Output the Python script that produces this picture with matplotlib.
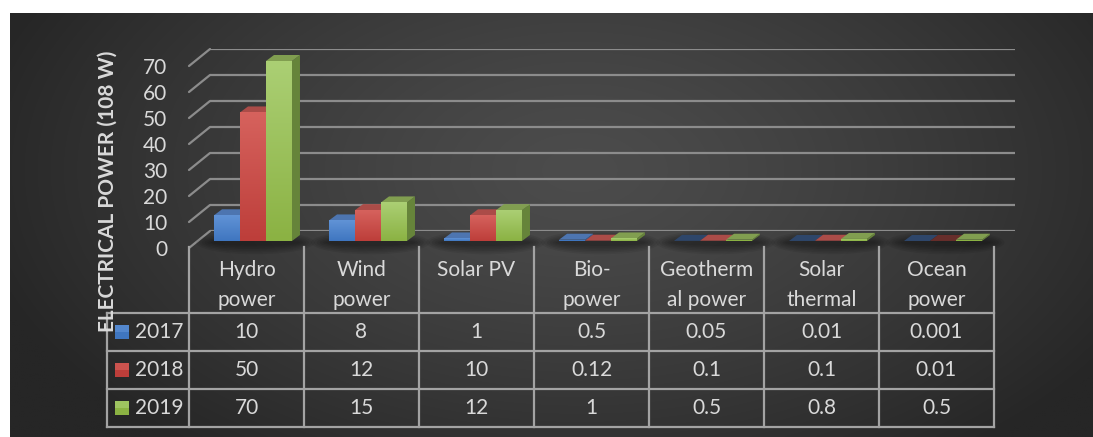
import numpy as np
import matplotlib
matplotlib.use("Agg")
import matplotlib.pyplot as plt
from matplotlib.patches import Polygon, Rectangle, Ellipse, ConnectionPatch
from matplotlib.colors import to_rgb

# ---- data -------------------------------------------------------------
categories = ["Hydro\npower", "Wind\npower", "Solar PV", "Bio-\npower",
              "Geotherm\nal power", "Solar\nthermal", "Ocean\npower"]
years = ["2017", "2018", "2019"]
values_2017 = [10, 8, 1, 0.5, 0.05, 0.01, 0.001]
values_2018 = [50, 12, 10, 0.12, 0.1, 0.1, 0.01]
values_2019 = [70, 15, 12, 1, 0.5, 0.8, 0.5]
y_ticks = [0, 10, 20, 30, 40, 50, 60, 70]
y_title = "ELECTRICAL POWER (108 W)"

series = [values_2017, values_2018, values_2019]

# ---- style ------------------------------------------------------------
FONT = "Lato"
FS = 15
TXT = "#d9d9d9"
GRID = "#8c8c8c"
TABLE_LINE = "#a3a3a3"
front_top = ["#6193d6", "#d6625d", "#abcf74"]
front_bot = ["#3f76c0", "#bd3e3a", "#8bb243"]
top_col = ["#4d75b0", "#ab4c48", "#819e50"]
side_col = ["#395d93", "#8c3532", "#66843a"]

W, H = 1093, 437
fig = plt.figure(figsize=(W / 100, H / 100), dpi=100, facecolor="white")


def fbox(l, t, r, b):
    return [l / W, 1 - b / H, (r - l) / W, (b - t) / H]


# ---- dark radial background -------------------------------------------
ax_bg = fig.add_axes(fbox(10, 13, 1093, 437), zorder=0)
gx, gy = np.meshgrid(np.linspace(10, 1093, 540), np.linspace(13, 437, 220))
r = np.sqrt(((gx - 580) / 620) ** 2 + ((gy - 170) / 360) ** 2)
t = np.clip(r, 0, 1) ** 1.3
c_in, c_out = np.array(to_rgb("#4c4c4c")), np.array(to_rgb("#262626"))
img = c_in[None, None, :] * (1 - t[..., None]) + c_out[None, None, :] * t[..., None]
ax_bg.imshow(img, aspect="auto", extent=[0, 1, 0, 1], interpolation="bilinear")
ax_bg.set_axis_off()

# ---- back wall with gridlines -----------------------------------------
ax_back = fig.add_axes(fbox(210, 49, 1015, 231), zorder=1)
ax_front = fig.add_axes(fbox(189, 66, 994, 248), zorder=2)
ax_bar = fig.add_axes(fbox(195.5, 61, 1000.5, 241), zorder=3)
for a in (ax_back, ax_front, ax_bar):
    a.set_xlim(-0.5, len(categories) - 0.5)
    a.set_ylim(0, 70)
    a.patch.set_visible(False)
    for s in a.spines.values():
        s.set_visible(False)
    a.set_xticks([])
    a.set_yticks([])

ax_back.hlines(y_ticks, -0.5, len(categories) - 0.5, color=GRID, lw=1.6)
for v in y_ticks:
    con = ConnectionPatch(xyA=(-0.5, v), coordsA=ax_front.transData,
                          xyB=(-0.5, v), coordsB=ax_back.transData,
                          color=GRID, lw=1.6)
    fig.add_artist(con)

# value axis labels on the front edge
ax_front.set_yticks(y_ticks)
ax_front.set_yticklabels([str(v) for v in y_ticks])
ax_front.tick_params(axis="y", length=0, pad=15.5, labelsize=FS,
                     labelcolor=TXT)
for lab in ax_front.get_yticklabels():
    lab.set_fontfamily(FONT)

# ---- 3-D style bars ---------------------------------------------------
bw = 0.226                     # bar width in category units
ddx = 8 / 115                  # depth offset (category units)
ddy = 6 / (180 / 70)           # depth offset (value units)
n = len(categories)
grad = np.linspace(1, 0, 64)[:, None]

# soft floor shadow under each group
for k in range(n):
    for j in range(6):
        ax_bar.add_patch(Ellipse((k + 0.02, -0.6), 0.78 + 0.05 * j,
                                 2.6 + 1.3 * j, color="black", alpha=0.07,
                                 lw=0, zorder=1, clip_on=False))

for i, vals in enumerate(series):
    xs = np.arange(n) + (i - 1) * bw
    bars = ax_bar.bar(xs, vals, bw, color=front_bot[i], lw=0, clip_on=False)
    ct, cb = np.array(to_rgb(front_top[i])), np.array(to_rgb(front_bot[i]))
    gimg = cb[None, None, :] * (1 - grad[..., None]) + ct[None, None, :] * grad[..., None]
    for k, (bar, h) in enumerate(zip(bars, vals)):
        z = 10 + k * 10 + i * 3
        x0 = bar.get_x()
        x1 = x0 + bar.get_width()
        # right side face
        ax_bar.add_patch(Polygon([(x1, 0), (x1 + ddx, ddy), (x1 + ddx, h + ddy), (x1, h)],
                                 closed=True, color=side_col[i], lw=0, zorder=z,
                                 clip_on=False))
        # top face; nearly flat bars read darker
        tc = np.array(to_rgb(top_col[i]))
        if h < 0.08:
            tc = tc * 0.6
        ax_bar.add_patch(Polygon([(x0, h), (x1, h), (x1 + ddx, h + ddy), (x0 + ddx, h + ddy)],
                                 closed=True, color=tc, lw=0, zorder=z + 1,
                                 clip_on=False))
        bar.set_zorder(z + 2)
        if h > 0.5:
            im = ax_bar.imshow(gimg, extent=[x0, x1, 0, h], aspect="auto",
                               interpolation="bilinear", zorder=z + 2.5)
            im.set_clip_path(bar)
ax_bar.set_xlim(-0.5, n - 0.5)
ax_bar.set_ylim(0, 70)

# ---- data table -------------------------------------------------------
row_h = 38
head_h = 66
ax_tab = fig.add_axes(fbox(189, 247, 994, 427), zorder=4)
top = 3 + head_h / row_h
ax_tab.set_xlim(-0.5, n - 0.5)
ax_tab.set_ylim(0, top)
ax_tab.set_axis_off()
x_left = -0.5 - 82 / 115
lk = dict(color=TABLE_LINE, lw=1.6, clip_on=False, solid_capstyle="projecting")
for k in range(n + 1):
    ax_tab.plot([k - 0.5, k - 0.5], [0, top], **lk)
ax_tab.plot([x_left, x_left], [0, 3], **lk)
for yy in range(4):
    ax_tab.plot([x_left, n - 0.5], [yy, yy], **lk)

# column headers, wrapped over two lines
for k, name in enumerate(categories):
    lines = name.split("\n")
    ys = [(427 - 270) / row_h, (427 - 300) / row_h] if len(lines) == 2 else [(427 - 270) / row_h]
    for ln, yy in zip(lines, ys):
        ax_tab.text(k, yy, ln, ha="center", va="center", color=TXT,
                    fontsize=FS, fontfamily=FONT, clip_on=False)

# rows with legend keys
for i, (yr, vals) in enumerate(zip(years, series)):
    yc = 2.5 - i
    sq = 14 / 115
    ax_tab.add_patch(Rectangle((-0.5 - 74 / 115, yc - 7 / row_h), sq, 14 / row_h,
                               color=front_bot[i], lw=0, clip_on=False))
    ax_tab.add_patch(Rectangle((-0.5 - 74 / 115, yc), sq, 7 / row_h,
                               color=front_top[i], lw=0, clip_on=False, alpha=0.6))
    ax_tab.text(-0.5 - 54 / 115, yc, yr, ha="left", va="center", color=TXT,
                fontsize=FS, fontfamily=FONT, clip_on=False)
    for k, v in enumerate(vals):
        ax_tab.text(k, yc, f"{v:g}", ha="center", va="center", color=TXT,
                    fontsize=FS, fontfamily=FONT, clip_on=False)

# value axis title
fig.text(108 / W, 1 - 191 / H, y_title, rotation=90, ha="center", va="center",
         color=TXT, fontsize=15, fontweight="bold", fontfamily=FONT, zorder=10)

fig.savefig("out.png", dpi=100, facecolor="white")
